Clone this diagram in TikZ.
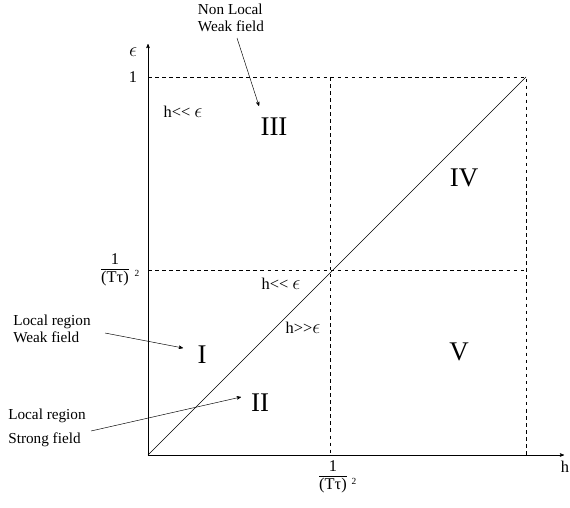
\documentclass[tikz,border=0pt]{standalone}
\usepackage{fontspec}
\setmainfont{Liberation Serif}
\usepackage{tikz}
\usetikzlibrary{arrows, positioning, calc}

\newcommand{\invtt}{%
  \begin{tabular}{@{}c@{}}1\\[-1pt]\hline\rule{0pt}{11pt}(Tτ)\end{tabular}}
\newcommand{\eps}{{\fontsize{19}{20}\selectfont$\epsilon$}}

\begin{document}
\begin{tikzpicture}[
        x=0.03cm, y=-0.03cm,
        >=stealth',
        txt/.style={inner sep=0pt, font=\fontsize{13}{15}\selectfont},
        cond/.style={inner sep=0pt, font=\fontsize{14}{16}\selectfont},
        region/.style={inner sep=0pt, font=\fontsize{23}{26}\selectfont},
        sq/.style={inner sep=0pt, font=\fontsize{8}{9}\selectfont},
        frac/.style={inner sep=0pt, font=\fontsize{14}{16}\selectfont},
        guide/.style={dashed, thin},
    ]
        \useasboundingbox (0,0) rectangle (570,507);

        % axes and frame points
        \coordinate (O) at (148,455);
        \coordinate (ytip) at (148,44);
        \coordinate (xtip) at (564,455);
        \coordinate (ytop) at (148,77);
        \coordinate (corner) at (526,77);
        \coordinate (cornerb) at (526,455);
        \coordinate (midl) at (148,270);
        \coordinate (midr) at (526,270);
        \coordinate (midt) at (330,77);
        \coordinate (midb) at (330,455);

        \draw[->] (O) -- (ytip);
        \draw[->] (O) -- (xtip);
        \draw (O) -- (corner);
        \draw[guide] (ytop) -- (corner) -- (cornerb);
        \draw[guide] (midl) -- (midr);
        \draw[guide] (midt) -- (midb);

        % axis labels
        \node[cond] (eps) at (133,52) {\eps};
        \node[cond] (one) at (133,77) {1};
        \node[cond] (hlab) at (565,467) {h};
        \node[frac] (fy) at (115,270) {\invtt};
        \node[sq] (fy2) at (137,273) {2};
        \node[frac] (fx) at (333,477) {\invtt};
        \node[sq] (fx2) at (354,481) {2};

        % regions
        \node[region] (r1) at (202,355) {I};
        \node[region] (r2) at (260,403) {II};
        \node[region] (r3) at (274,127) {III};
        \node[region] (r4) at (464,178) {IV};
        \node[region] (r5) at (459,352) {V};

        \node[cond] (c1) at (183,112) {h<{}< \eps};
        \node[cond] (c2) at (281,284) {h<{}< \eps};
        \node[cond] (c3) at (303,328) {h>{}>\eps};

        % side notes
        \node[txt, align=left] (nonloc) at (231,18) {Non Local\\Weak field};
        \node[txt, align=left] (locweak) at (52,329) {Local region\\Weak field};
        \node[txt, align=left] (locstrong) at (47,428) {Local region\\[6pt]Strong field};

        \coordinate (nl-t) at (237,38);
        \coordinate (nl-h) at (259,106);
        \coordinate (lw-t) at (105,333);
        \coordinate (lw-h) at (183,348);
        \coordinate (ls-t) at (91,431);
        \coordinate (ls-h) at (241,397);

        \draw[->] (nl-t) -- (nl-h);
        \draw[->] (lw-t) -- (lw-h);
        \draw[->] (ls-t) -- (ls-h);
    \end{tikzpicture}
\end{document}
